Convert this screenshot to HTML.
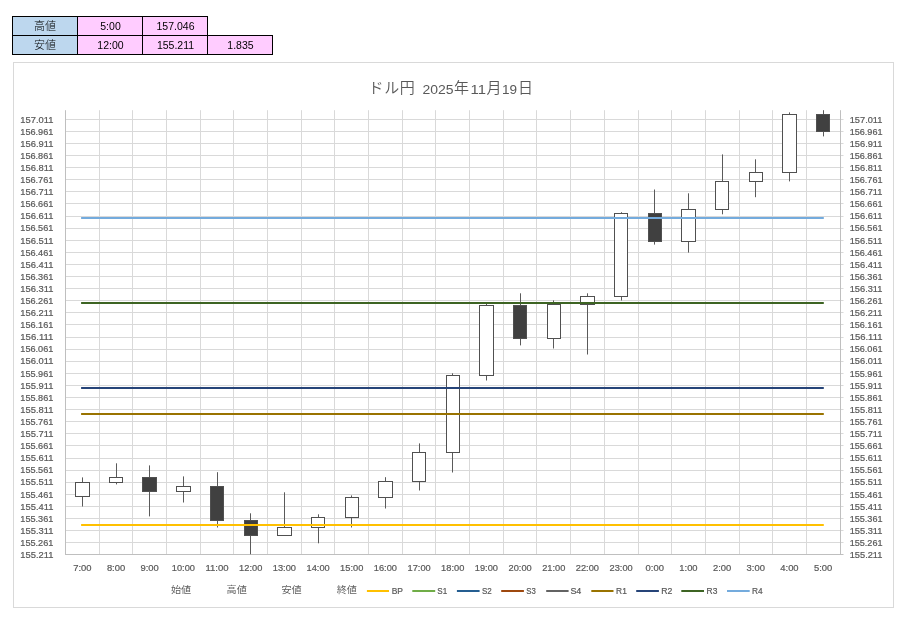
<!DOCTYPE html>
<html lang="ja">
<head>
<meta charset="utf-8">
<title>ドル円 2025年11月19日</title>
<style>
html,body{margin:0;padding:0;background:#fff;}
body{width:920px;height:631px;position:relative;overflow:hidden;font-family:'Liberation Sans', 'Noto Sans CJK JP', sans-serif;}
table.t{position:absolute;left:12px;top:16px;border-collapse:collapse;table-layout:fixed;font-size:10.5px;color:#000;}
table.t td{width:63px;height:17px;padding:1px 0 0 1px;border:1px solid #000;text-align:center;vertical-align:middle;line-height:17px;background:#FFCCFF;box-sizing:content-box;}
table.t td.h{background:#BDD7EE;font-size:11px;font-weight:300;padding:0;height:18px;line-height:18px;width:64px;}
table.t td.e{background:none;border:none;}
</style>
</head>
<body>
<table class="t">
<tr><td class="h">高値</td><td>5:00</td><td>157.046</td><td class="e"></td></tr>
<tr><td class="h">安値</td><td>12:00</td><td>155.211</td><td>1.835</td></tr>
</table>
<svg width="920" height="631" viewBox="0 0 920 631" style="position:absolute;left:0;top:0">
<rect x="13.5" y="62.5" width="880" height="545" fill="#fff" stroke="#D9D9D9" stroke-width="1"/>
<path d="M65.5 542.5H843.5M65.5 530.5H843.5M65.5 518.5H843.5M65.5 506.5H843.5M65.5 494.5H843.5M65.5 482.5H843.5M65.5 470.5H843.5M65.5 458.5H843.5M65.5 445.5H843.5M65.5 433.5H843.5M65.5 421.5H843.5M65.5 409.5H843.5M65.5 397.5H843.5M65.5 385.5H843.5M65.5 373.5H843.5M65.5 361.5H843.5M65.5 349.5H843.5M65.5 337.5H843.5M65.5 324.5H843.5M65.5 312.5H843.5M65.5 300.5H843.5M65.5 288.5H843.5M65.5 276.5H843.5M65.5 264.5H843.5M65.5 252.5H843.5M65.5 240.5H843.5M65.5 228.5H843.5M65.5 216.5H843.5M65.5 203.5H843.5M65.5 191.5H843.5M65.5 179.5H843.5M65.5 167.5H843.5M65.5 155.5H843.5M65.5 143.5H843.5M65.5 131.5H843.5M65.5 119.5H843.5M99.5 110.2V554.4M132.5 110.2V554.4M166.5 110.2V554.4M200.5 110.2V554.4M233.5 110.2V554.4M267.5 110.2V554.4M301.5 110.2V554.4M334.5 110.2V554.4M368.5 110.2V554.4M402.5 110.2V554.4M435.5 110.2V554.4M469.5 110.2V554.4M503.5 110.2V554.4M536.5 110.2V554.4M570.5 110.2V554.4M604.5 110.2V554.4M638.5 110.2V554.4M671.5 110.2V554.4M705.5 110.2V554.4M739.5 110.2V554.4M772.5 110.2V554.4M806.5 110.2V554.4" stroke="#D9D9D9" stroke-width="1" fill="none"/>
<path d="M65.5 110.2V554.5M65.0 554.5H843.5M840.5 110.2V554.5" stroke="#BFBFBF" stroke-width="1" fill="none"/>
<path d="M82.5 477.4V506.5" stroke="#5a5a5a" stroke-width="1" fill="none"/>
<rect x="75.5" y="482.5" width="14" height="14" fill="#fff" stroke="#505050" stroke-width="1"/>
<path d="M116.5 463.3V484.4" stroke="#5a5a5a" stroke-width="1" fill="none"/>
<rect x="109.5" y="477.5" width="13" height="5" fill="#fff" stroke="#505050" stroke-width="1"/>
<path d="M149.5 465.4V516.4" stroke="#5a5a5a" stroke-width="1" fill="none"/>
<rect x="142.5" y="477.5" width="14" height="14" fill="#404040" stroke="#505050" stroke-width="1"/>
<path d="M183.5 476.4V502.5" stroke="#5a5a5a" stroke-width="1" fill="none"/>
<rect x="176.5" y="486.5" width="14" height="5" fill="#fff" stroke="#505050" stroke-width="1"/>
<path d="M217.5 472.2V527.5" stroke="#5a5a5a" stroke-width="1" fill="none"/>
<rect x="210.5" y="486.5" width="13" height="34" fill="#404040" stroke="#505050" stroke-width="1"/>
<path d="M250.5 513.3V554.2" stroke="#5a5a5a" stroke-width="1" fill="none"/>
<rect x="244.5" y="520.5" width="13" height="15" fill="#404040" stroke="#505050" stroke-width="1"/>
<path d="M284.5 492.3V535.7" stroke="#5a5a5a" stroke-width="1" fill="none"/>
<rect x="277.5" y="527.5" width="14" height="8" fill="#fff" stroke="#505050" stroke-width="1"/>
<path d="M318.5 514.3V543.3" stroke="#5a5a5a" stroke-width="1" fill="none"/>
<rect x="311.5" y="517.5" width="13" height="10" fill="#fff" stroke="#505050" stroke-width="1"/>
<path d="M351.5 495.4V527.5" stroke="#5a5a5a" stroke-width="1" fill="none"/>
<rect x="345.5" y="497.5" width="13" height="20" fill="#fff" stroke="#505050" stroke-width="1"/>
<path d="M385.5 477.2V508.5" stroke="#5a5a5a" stroke-width="1" fill="none"/>
<rect x="378.5" y="481.5" width="14" height="16" fill="#fff" stroke="#505050" stroke-width="1"/>
<path d="M419.5 443.4V490.5" stroke="#5a5a5a" stroke-width="1" fill="none"/>
<rect x="412.5" y="452.5" width="13" height="29" fill="#fff" stroke="#505050" stroke-width="1"/>
<path d="M452.5 373.3V472.5" stroke="#5a5a5a" stroke-width="1" fill="none"/>
<rect x="446.5" y="375.5" width="13" height="77" fill="#fff" stroke="#505050" stroke-width="1"/>
<path d="M486.5 303.3V380.5" stroke="#5a5a5a" stroke-width="1" fill="none"/>
<rect x="479.5" y="305.5" width="14" height="70" fill="#fff" stroke="#505050" stroke-width="1"/>
<path d="M520.5 293.3V345.4" stroke="#5a5a5a" stroke-width="1" fill="none"/>
<rect x="513.5" y="305.5" width="13" height="33" fill="#404040" stroke="#505050" stroke-width="1"/>
<path d="M553.5 300.4V348.5" stroke="#5a5a5a" stroke-width="1" fill="none"/>
<rect x="547.5" y="304.5" width="13" height="34" fill="#fff" stroke="#505050" stroke-width="1"/>
<path d="M587.5 293.3V354.5" stroke="#5a5a5a" stroke-width="1" fill="none"/>
<rect x="580.5" y="296.5" width="14" height="8" fill="#fff" stroke="#505050" stroke-width="1"/>
<path d="M621.5 212.2V300.5" stroke="#5a5a5a" stroke-width="1" fill="none"/>
<rect x="614.5" y="213.5" width="13" height="83" fill="#fff" stroke="#505050" stroke-width="1"/>
<path d="M654.5 189.5V244.6" stroke="#5a5a5a" stroke-width="1" fill="none"/>
<rect x="648.5" y="213.5" width="13" height="28" fill="#404040" stroke="#505050" stroke-width="1"/>
<path d="M688.5 193.3V252.6" stroke="#5a5a5a" stroke-width="1" fill="none"/>
<rect x="681.5" y="209.5" width="14" height="32" fill="#fff" stroke="#505050" stroke-width="1"/>
<path d="M722.5 154.4V214.3" stroke="#5a5a5a" stroke-width="1" fill="none"/>
<rect x="715.5" y="181.5" width="13" height="28" fill="#fff" stroke="#505050" stroke-width="1"/>
<path d="M755.5 159.3V197.2" stroke="#5a5a5a" stroke-width="1" fill="none"/>
<rect x="749.5" y="172.5" width="13" height="9" fill="#fff" stroke="#505050" stroke-width="1"/>
<path d="M789.5 112.4V181.4" stroke="#5a5a5a" stroke-width="1" fill="none"/>
<rect x="782.5" y="114.5" width="14" height="58" fill="#fff" stroke="#505050" stroke-width="1"/>
<path d="M823.5 110.2V136.4" stroke="#5a5a5a" stroke-width="1" fill="none"/>
<rect x="816.5" y="114.5" width="13" height="17" fill="#404040" stroke="#505050" stroke-width="1"/>
<path d="M81.1 525.0H823.8" stroke="#FFC000" stroke-width="2" fill="none"/>
<path d="M81.1 414.0H823.8" stroke="#997300" stroke-width="2" fill="none"/>
<path d="M81.1 388.0H823.8" stroke="#264478" stroke-width="2" fill="none"/>
<path d="M81.1 303.0H823.8" stroke="#3D6423" stroke-width="2" fill="none"/>
<path d="M81.1 218.0H823.8" stroke="#74ABDD" stroke-width="2" fill="none"/>
<g font-family="'Liberation Sans', Arial, sans-serif" font-size="8.6" fill="#595959" stroke="#595959" stroke-width="0.2">
<text x="20.3" y="558.0" textLength="33.1" lengthAdjust="spacingAndGlyphs">155.211</text>
<text x="849.7" y="558.0" textLength="32.8" lengthAdjust="spacingAndGlyphs">155.211</text>
<text x="20.3" y="546.0" textLength="33.1" lengthAdjust="spacingAndGlyphs">155.261</text>
<text x="849.7" y="546.0" textLength="32.8" lengthAdjust="spacingAndGlyphs">155.261</text>
<text x="20.3" y="534.0" textLength="33.1" lengthAdjust="spacingAndGlyphs">155.311</text>
<text x="849.7" y="534.0" textLength="32.8" lengthAdjust="spacingAndGlyphs">155.311</text>
<text x="20.3" y="522.0" textLength="33.1" lengthAdjust="spacingAndGlyphs">155.361</text>
<text x="849.7" y="522.0" textLength="32.8" lengthAdjust="spacingAndGlyphs">155.361</text>
<text x="20.3" y="510.0" textLength="33.1" lengthAdjust="spacingAndGlyphs">155.411</text>
<text x="849.7" y="510.0" textLength="32.8" lengthAdjust="spacingAndGlyphs">155.411</text>
<text x="20.3" y="498.0" textLength="33.1" lengthAdjust="spacingAndGlyphs">155.461</text>
<text x="849.7" y="498.0" textLength="32.8" lengthAdjust="spacingAndGlyphs">155.461</text>
<text x="20.3" y="485.0" textLength="33.1" lengthAdjust="spacingAndGlyphs">155.511</text>
<text x="849.7" y="485.0" textLength="32.8" lengthAdjust="spacingAndGlyphs">155.511</text>
<text x="20.3" y="473.0" textLength="33.1" lengthAdjust="spacingAndGlyphs">155.561</text>
<text x="849.7" y="473.0" textLength="32.8" lengthAdjust="spacingAndGlyphs">155.561</text>
<text x="20.3" y="461.0" textLength="33.1" lengthAdjust="spacingAndGlyphs">155.611</text>
<text x="849.7" y="461.0" textLength="32.8" lengthAdjust="spacingAndGlyphs">155.611</text>
<text x="20.3" y="449.0" textLength="33.1" lengthAdjust="spacingAndGlyphs">155.661</text>
<text x="849.7" y="449.0" textLength="32.8" lengthAdjust="spacingAndGlyphs">155.661</text>
<text x="20.3" y="437.0" textLength="33.1" lengthAdjust="spacingAndGlyphs">155.711</text>
<text x="849.7" y="437.0" textLength="32.8" lengthAdjust="spacingAndGlyphs">155.711</text>
<text x="20.3" y="425.0" textLength="33.1" lengthAdjust="spacingAndGlyphs">155.761</text>
<text x="849.7" y="425.0" textLength="32.8" lengthAdjust="spacingAndGlyphs">155.761</text>
<text x="20.3" y="413.0" textLength="33.1" lengthAdjust="spacingAndGlyphs">155.811</text>
<text x="849.7" y="413.0" textLength="32.8" lengthAdjust="spacingAndGlyphs">155.811</text>
<text x="20.3" y="401.0" textLength="33.1" lengthAdjust="spacingAndGlyphs">155.861</text>
<text x="849.7" y="401.0" textLength="32.8" lengthAdjust="spacingAndGlyphs">155.861</text>
<text x="20.3" y="389.0" textLength="33.1" lengthAdjust="spacingAndGlyphs">155.911</text>
<text x="849.7" y="389.0" textLength="32.8" lengthAdjust="spacingAndGlyphs">155.911</text>
<text x="20.3" y="377.0" textLength="33.1" lengthAdjust="spacingAndGlyphs">155.961</text>
<text x="849.7" y="377.0" textLength="32.8" lengthAdjust="spacingAndGlyphs">155.961</text>
<text x="20.3" y="364.0" textLength="33.1" lengthAdjust="spacingAndGlyphs">156.011</text>
<text x="849.7" y="364.0" textLength="32.8" lengthAdjust="spacingAndGlyphs">156.011</text>
<text x="20.3" y="352.0" textLength="33.1" lengthAdjust="spacingAndGlyphs">156.061</text>
<text x="849.7" y="352.0" textLength="32.8" lengthAdjust="spacingAndGlyphs">156.061</text>
<text x="20.3" y="340.0" textLength="33.1" lengthAdjust="spacingAndGlyphs">156.111</text>
<text x="849.7" y="340.0" textLength="32.8" lengthAdjust="spacingAndGlyphs">156.111</text>
<text x="20.3" y="328.0" textLength="33.1" lengthAdjust="spacingAndGlyphs">156.161</text>
<text x="849.7" y="328.0" textLength="32.8" lengthAdjust="spacingAndGlyphs">156.161</text>
<text x="20.3" y="316.0" textLength="33.1" lengthAdjust="spacingAndGlyphs">156.211</text>
<text x="849.7" y="316.0" textLength="32.8" lengthAdjust="spacingAndGlyphs">156.211</text>
<text x="20.3" y="304.0" textLength="33.1" lengthAdjust="spacingAndGlyphs">156.261</text>
<text x="849.7" y="304.0" textLength="32.8" lengthAdjust="spacingAndGlyphs">156.261</text>
<text x="20.3" y="292.0" textLength="33.1" lengthAdjust="spacingAndGlyphs">156.311</text>
<text x="849.7" y="292.0" textLength="32.8" lengthAdjust="spacingAndGlyphs">156.311</text>
<text x="20.3" y="280.0" textLength="33.1" lengthAdjust="spacingAndGlyphs">156.361</text>
<text x="849.7" y="280.0" textLength="32.8" lengthAdjust="spacingAndGlyphs">156.361</text>
<text x="20.3" y="268.0" textLength="33.1" lengthAdjust="spacingAndGlyphs">156.411</text>
<text x="849.7" y="268.0" textLength="32.8" lengthAdjust="spacingAndGlyphs">156.411</text>
<text x="20.3" y="256.0" textLength="33.1" lengthAdjust="spacingAndGlyphs">156.461</text>
<text x="849.7" y="256.0" textLength="32.8" lengthAdjust="spacingAndGlyphs">156.461</text>
<text x="20.3" y="244.0" textLength="33.1" lengthAdjust="spacingAndGlyphs">156.511</text>
<text x="849.7" y="244.0" textLength="32.8" lengthAdjust="spacingAndGlyphs">156.511</text>
<text x="20.3" y="231.0" textLength="33.1" lengthAdjust="spacingAndGlyphs">156.561</text>
<text x="849.7" y="231.0" textLength="32.8" lengthAdjust="spacingAndGlyphs">156.561</text>
<text x="20.3" y="219.0" textLength="33.1" lengthAdjust="spacingAndGlyphs">156.611</text>
<text x="849.7" y="219.0" textLength="32.8" lengthAdjust="spacingAndGlyphs">156.611</text>
<text x="20.3" y="207.0" textLength="33.1" lengthAdjust="spacingAndGlyphs">156.661</text>
<text x="849.7" y="207.0" textLength="32.8" lengthAdjust="spacingAndGlyphs">156.661</text>
<text x="20.3" y="195.0" textLength="33.1" lengthAdjust="spacingAndGlyphs">156.711</text>
<text x="849.7" y="195.0" textLength="32.8" lengthAdjust="spacingAndGlyphs">156.711</text>
<text x="20.3" y="183.0" textLength="33.1" lengthAdjust="spacingAndGlyphs">156.761</text>
<text x="849.7" y="183.0" textLength="32.8" lengthAdjust="spacingAndGlyphs">156.761</text>
<text x="20.3" y="171.0" textLength="33.1" lengthAdjust="spacingAndGlyphs">156.811</text>
<text x="849.7" y="171.0" textLength="32.8" lengthAdjust="spacingAndGlyphs">156.811</text>
<text x="20.3" y="159.0" textLength="33.1" lengthAdjust="spacingAndGlyphs">156.861</text>
<text x="849.7" y="159.0" textLength="32.8" lengthAdjust="spacingAndGlyphs">156.861</text>
<text x="20.3" y="147.0" textLength="33.1" lengthAdjust="spacingAndGlyphs">156.911</text>
<text x="849.7" y="147.0" textLength="32.8" lengthAdjust="spacingAndGlyphs">156.911</text>
<text x="20.3" y="135.0" textLength="33.1" lengthAdjust="spacingAndGlyphs">156.961</text>
<text x="849.7" y="135.0" textLength="32.8" lengthAdjust="spacingAndGlyphs">156.961</text>
<text x="20.3" y="123.0" textLength="33.1" lengthAdjust="spacingAndGlyphs">157.011</text>
<text x="849.7" y="123.0" textLength="32.8" lengthAdjust="spacingAndGlyphs">157.011</text>
<text x="73.2" y="571" textLength="18.3" lengthAdjust="spacingAndGlyphs">7:00</text>
<text x="106.9" y="571" textLength="18.3" lengthAdjust="spacingAndGlyphs">8:00</text>
<text x="140.5" y="571" textLength="18.3" lengthAdjust="spacingAndGlyphs">9:00</text>
<text x="171.8" y="571" textLength="23.2" lengthAdjust="spacingAndGlyphs">10:00</text>
<text x="205.4" y="571" textLength="23.2" lengthAdjust="spacingAndGlyphs">11:00</text>
<text x="239.1" y="571" textLength="23.2" lengthAdjust="spacingAndGlyphs">12:00</text>
<text x="272.8" y="571" textLength="23.2" lengthAdjust="spacingAndGlyphs">13:00</text>
<text x="306.5" y="571" textLength="23.2" lengthAdjust="spacingAndGlyphs">14:00</text>
<text x="340.1" y="571" textLength="23.2" lengthAdjust="spacingAndGlyphs">15:00</text>
<text x="373.8" y="571" textLength="23.2" lengthAdjust="spacingAndGlyphs">16:00</text>
<text x="407.5" y="571" textLength="23.2" lengthAdjust="spacingAndGlyphs">17:00</text>
<text x="441.1" y="571" textLength="23.2" lengthAdjust="spacingAndGlyphs">18:00</text>
<text x="474.8" y="571" textLength="23.2" lengthAdjust="spacingAndGlyphs">19:00</text>
<text x="508.5" y="571" textLength="23.2" lengthAdjust="spacingAndGlyphs">20:00</text>
<text x="542.2" y="571" textLength="23.2" lengthAdjust="spacingAndGlyphs">21:00</text>
<text x="575.8" y="571" textLength="23.2" lengthAdjust="spacingAndGlyphs">22:00</text>
<text x="609.5" y="571" textLength="23.2" lengthAdjust="spacingAndGlyphs">23:00</text>
<text x="645.6" y="571" textLength="18.3" lengthAdjust="spacingAndGlyphs">0:00</text>
<text x="679.3" y="571" textLength="18.3" lengthAdjust="spacingAndGlyphs">1:00</text>
<text x="713.0" y="571" textLength="18.3" lengthAdjust="spacingAndGlyphs">2:00</text>
<text x="746.6" y="571" textLength="18.3" lengthAdjust="spacingAndGlyphs">3:00</text>
<text x="780.3" y="571" textLength="18.3" lengthAdjust="spacingAndGlyphs">4:00</text>
<text x="814.0" y="571" textLength="18.3" lengthAdjust="spacingAndGlyphs">5:00</text>
<path d="M366.9 591H389.0" stroke="#FFC000" stroke-width="2"/>
<text x="391.7" y="594" textLength="11.3" lengthAdjust="spacingAndGlyphs">BP</text>
<path d="M412.3 591H435.2" stroke="#70AD47" stroke-width="2"/>
<text x="437.3" y="594" textLength="9.9" lengthAdjust="spacingAndGlyphs">S1</text>
<path d="M456.9 591H479.6" stroke="#255E91" stroke-width="2"/>
<text x="481.9" y="594" textLength="9.8" lengthAdjust="spacingAndGlyphs">S2</text>
<path d="M501.2 591H523.9" stroke="#9E480E" stroke-width="2"/>
<text x="526.3" y="594" textLength="9.5" lengthAdjust="spacingAndGlyphs">S3</text>
<path d="M546.2 591H568.6" stroke="#636363" stroke-width="2"/>
<text x="570.4" y="594" textLength="10.9" lengthAdjust="spacingAndGlyphs">S4</text>
<path d="M591.3 591H613.5" stroke="#997300" stroke-width="2"/>
<text x="616.1" y="594" textLength="10.7" lengthAdjust="spacingAndGlyphs">R1</text>
<path d="M636.2 591H658.9" stroke="#264478" stroke-width="2"/>
<text x="661.2" y="594" textLength="11.1" lengthAdjust="spacingAndGlyphs">R2</text>
<path d="M681.3 591H704.0" stroke="#3D6423" stroke-width="2"/>
<text x="706.6" y="594" textLength="10.8" lengthAdjust="spacingAndGlyphs">R3</text>
<path d="M727.0 591H749.7" stroke="#74ABDD" stroke-width="2"/>
<text x="752.0" y="594" textLength="10.6" lengthAdjust="spacingAndGlyphs">R4</text>
</g>
<g font-family="'Liberation Sans', 'Noto Sans CJK JP', sans-serif" font-size="9.2" font-weight="400" fill="#606060">
<text x="171.0" y="593.4" textLength="20.2" lengthAdjust="spacingAndGlyphs">始値</text>
<text x="226.6" y="593.4" textLength="20.2" lengthAdjust="spacingAndGlyphs">高値</text>
<text x="281.5" y="593.4" textLength="20.2" lengthAdjust="spacingAndGlyphs">安値</text>
<text x="336.7" y="593.4" textLength="20.2" lengthAdjust="spacingAndGlyphs">終値</text>
</g>
<text y="93.2" fill="#595959" font-family="'Liberation Sans', 'Noto Sans CJK JP', sans-serif" font-size="15" font-weight="350"><tspan x="368.6" textLength="46.2" lengthAdjust="spacing">ドル円</tspan><tspan x="422.5" y="94.2" font-size="13.2" textLength="31.1" lengthAdjust="spacingAndGlyphs">2025</tspan><tspan x="454.1" y="93.2">年</tspan><tspan x="470.6" y="94.2" font-size="13.2" textLength="15.4" lengthAdjust="spacingAndGlyphs">11</tspan><tspan x="486.5" y="93.2">月</tspan><tspan x="501.9" y="94.2" font-size="13.2" textLength="15.1" lengthAdjust="spacingAndGlyphs">19</tspan><tspan x="518.0" y="93.2">日</tspan></text>
</svg>
</body>
</html>
